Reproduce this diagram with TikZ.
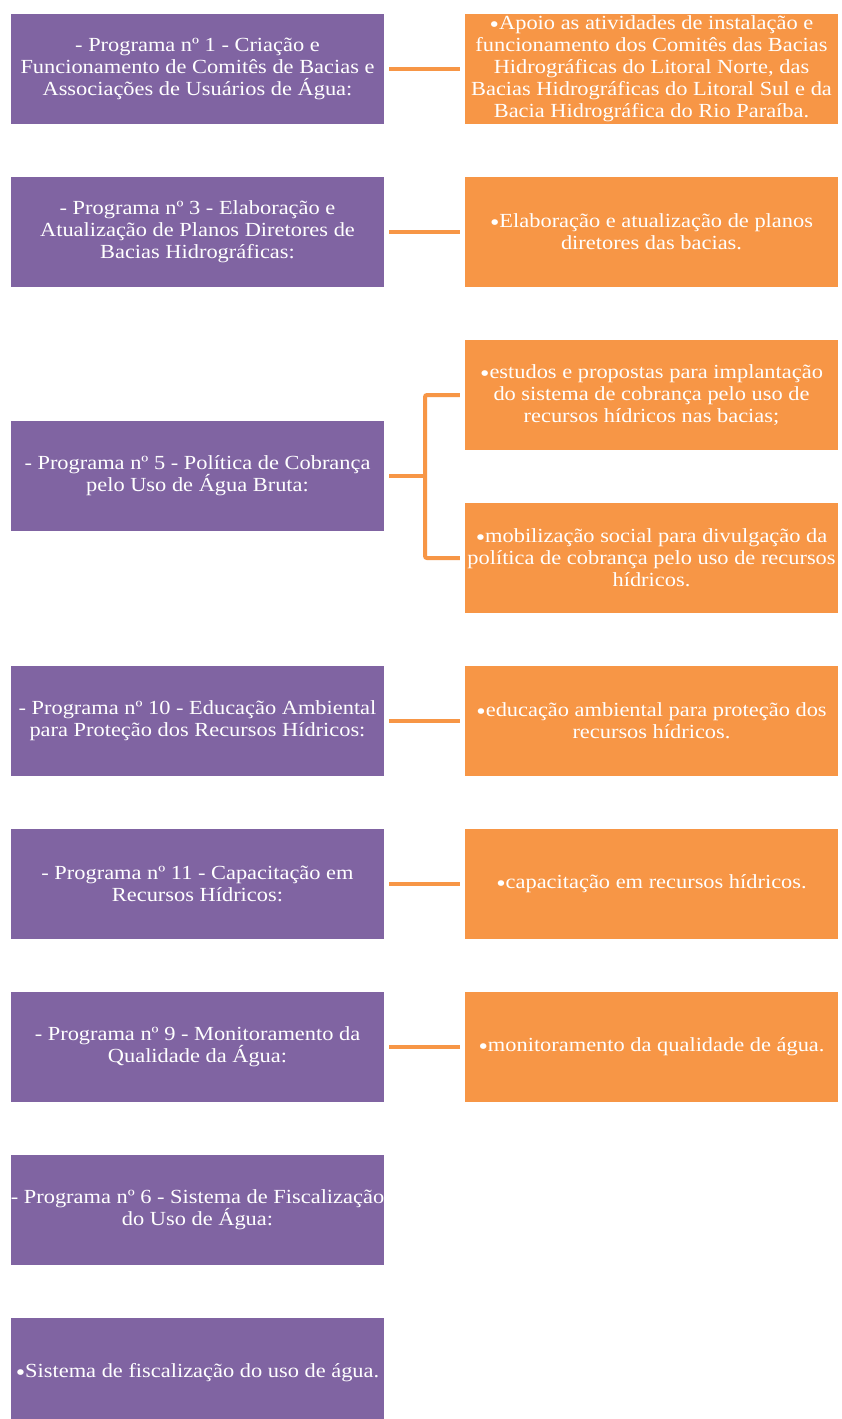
\documentclass[tikz,border=0pt]{standalone}
\usepackage{fontspec}
\setmainfont{Liberation Serif}[FakeStretch=1.12]
\usetikzlibrary{calc}
\definecolor{pcol}{HTML}{8064A2}
\definecolor{ocol}{HTML}{F79646}
\tikzset{
  box/.style={minimum width=373pt, minimum height=110pt, inner sep=0pt, align=center, text=white,
    font=\fontsize{20}{22}\selectfont},
  pbox/.style={box, fill=pcol},
  obox/.style={box, fill=ocol},
  conn/.style={draw=ocol, line width=4pt, line cap=butt},
}
\newcommand{\bul}{{\fontsize{24}{22}\selectfont\raisebox{-3pt}{•}}}
\begin{document}
\begin{tikzpicture}[x=1pt, y=-1pt]
\clip (0,0) rectangle (842,1419);
\fill[white] (0,0) rectangle (842,1419);
% purple boxes
\node[pbox] (p1) at (197.5,69) {- Programa nº 1 - Criação e\\Funcionamento de Comitês de Bacias e\\Associações de Usuários de Água:};
\node[pbox] (p3) at (197.5,232) {- Programa nº 3 - Elaboração e\\Atualização de Planos Diretores de\\Bacias Hidrográficas:};
\node[pbox] (p5) at (197.5,476) {- Programa nº 5 - Política de Cobrança\\pelo Uso de Água Bruta:};
\node[pbox] (p10) at (197.5,721) {- Programa nº 10 - Educação Ambiental\\para Proteção dos Recursos Hídricos:};
\node[pbox] (p11) at (197.5,884) {- Programa nº 11 - Capacitação em\\Recursos Hídricos:};
\node[pbox] (p9) at (197.5,1047) {- Programa nº 9 - Monitoramento da\\Qualidade da Água:};
\node[pbox] (p6) at (197.5,1210) {- Programa nº 6 - Sistema de Fiscalização\\do Uso de Água:};
\node[pbox] (p6b) at (197.5,1373) {\bul Sistema de fiscalização do uso de água.};
% orange boxes
\node[obox] (o1) at (651.5,69) {\bul Apoio as atividades de instalação e\\funcionamento dos Comitês das Bacias\\Hidrográficas do Litoral Norte, das\\Bacias Hidrográficas do Litoral Sul e da\\Bacia Hidrográfica do Rio Paraíba.};
\node[obox] (o3) at (651.5,232) {\bul Elaboração e atualização de planos\\diretores das bacias.};
\node[obox] (o5a) at (651.5,395) {\bul estudos e propostas para implantação\\do sistema de cobrança pelo uso de\\recursos hídricos nas bacias;};
\node[obox] (o5b) at (651.5,558) {\bul mobilização social para divulgação da\\política de cobrança pelo uso de recursos\\hídricos.};
\node[obox] (o10) at (651.5,721) {\bul educação ambiental para proteção dos\\recursos hídricos.};
\node[obox] (o11) at (651.5,884) {\bul capacitação em recursos hídricos.};
\node[obox] (o9) at (651.5,1047) {\bul monitoramento da qualidade de água.};
% connectors
\draw[conn, shorten <=5pt, shorten >=5pt] (p1) -- (o1);
\draw[conn, shorten <=5pt, shorten >=5pt] (p3) -- (o3);
\draw[conn, shorten <=5pt, shorten >=5pt] (p10) -- (o10);
\draw[conn, shorten <=5pt, shorten >=5pt] (p11) -- (o11);
\draw[conn, shorten <=5pt, shorten >=5pt] (p9) -- (o9);
\coordinate (j) at (425,476);
\draw[conn, shorten <=5pt] (p5.east) -- ($(j)+(2,0)$);
\draw[conn, rounded corners=2pt] ($(o5a.west)+(-5,0)$) -| (j |- o5b.west) -- ($(o5b.west)+(-5,0)$);
\end{tikzpicture}
\end{document}
